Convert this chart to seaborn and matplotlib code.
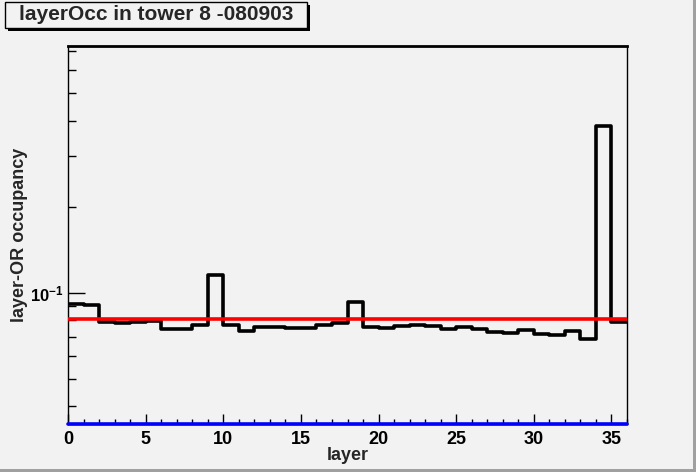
import numpy as np
import matplotlib
matplotlib.use("Agg")
import matplotlib.pyplot as plt
from matplotlib.patches import Rectangle
from matplotlib.ticker import MultipleLocator, FixedLocator, NullFormatter
import seaborn as sns

# layer-OR occupancy per layer
layers = np.arange(36)
occupancy = [0.0915, 0.0908, 0.0790, 0.0784, 0.0790, 0.0794, 0.0748, 0.0745, 0.0769, 0.1153,
             0.0769, 0.0735, 0.0759, 0.0759, 0.0751, 0.0751, 0.0771, 0.0782, 0.0928, 0.0757,
             0.0751, 0.0765, 0.0773, 0.0765, 0.0745, 0.0757, 0.0748, 0.0727, 0.0721, 0.0741,
             0.0717, 0.0713, 0.0733, 0.0687, 0.3838, 0.0788]
ref_level = 0.0807          # red reference line
y_range = (0.0347, 0.73)
x_range = (0, 36)
y_minor = [0.04, 0.05, 0.06, 0.07, 0.08, 0.09, 0.2, 0.3, 0.4, 0.5, 0.6, 0.7]
title = "layerOcc in tower 8 -080903"

W, H = 696, 472
BG = "#f2f2f2"

sns.set_theme(style="ticks")
plt.rcParams["font.family"] = ["Liberation Sans", "DejaVu Sans"]
plt.rcParams["font.weight"] = "bold"
plt.rcParams["mathtext.fontset"] = "custom"
plt.rcParams["mathtext.bf"] = "Liberation Sans:bold"
plt.rcParams["mathtext.rm"] = "Liberation Sans:bold"


def fx(px):
    return px / W


def fy(py):
    return 1 - py / H


fig = plt.figure(figsize=(W / 100, H / 100), dpi=100, facecolor=BG)
ax = fig.add_axes([fx(68), fy(424), fx(627) - fx(68), fy(46) - fy(424)])
ax.set_facecolor(BG)

sns.histplot(x=layers + 0.5, weights=occupancy, bins=36, binrange=x_range,
             element="step", fill=False, color="black", linewidth=2.6, ax=ax)
ax.set_yscale("log")
ax.set_xlim(*x_range)
ax.set_ylim(*y_range)

ax.axhline(ref_level, color="red", linewidth=2.6, zorder=4)
ax.axhline(y_range[0], color="blue", linewidth=2.6, zorder=5, clip_on=False)

# ticks, ROOT style (inside, none on top/right)
ax.xaxis.set_major_locator(MultipleLocator(5))
ax.xaxis.set_minor_locator(MultipleLocator(1))
ax.set_yticks([0.1], labels=[r"$\mathbf{10^{-1}}$"])
ax.yaxis.set_minor_locator(FixedLocator(y_minor))
ax.yaxis.set_minor_formatter(NullFormatter())
ax.tick_params(axis="both", which="both", direction="in", top=False, right=False,
               colors="black", width=1)
ax.tick_params(axis="x", which="major", length=7.2, labelsize=13, pad=5)
ax.tick_params(axis="x", which="minor", length=3.6)
ax.tick_params(axis="y", which="major", length=12, labelsize=12, pad=3)
ax.tick_params(axis="y", which="minor", length=5.8)
for lab in ax.get_xticklabels() + ax.get_yticklabels():
    lab.set_fontweight("bold")

for side in ["left", "right", "bottom"]:
    ax.spines[side].set_linewidth(1)
    ax.spines[side].set_color("black")
ax.spines["top"].set_linewidth(2)
ax.spines["top"].set_color("black")

ax.set_xlabel("layer", fontsize=13, fontweight="bold")
ax.set_ylabel("layer-OR occupancy", fontsize=13, fontweight="bold")
ax.xaxis.label.set_va("center")
ax.yaxis.label.set_va("center")
ax.xaxis.set_label_coords(0.5, (424 - 455) / 378)
ax.yaxis.set_label_coords((20 - 68) / 559, 0.5)

# title box with shadow
fig.add_artist(Rectangle((fx(8), fy(31)), fx(307) - fx(5), fy(2) - fy(28),
                         transform=fig.transFigure, facecolor="black", edgecolor="none"))
fig.add_artist(Rectangle((fx(5), fy(28)), fx(307) - fx(5), fy(2) - fy(28),
                         transform=fig.transFigure, facecolor=BG, edgecolor="black", linewidth=1))
fig.text(fx(156), fy(15), title, ha="center", va="center", fontsize=15, fontweight="bold")

# canvas bevel on right and bottom
fig.add_artist(Rectangle((fx(693), 0), fx(3), 1, transform=fig.transFigure,
                         facecolor="#a0a0a0", edgecolor="none"))
fig.add_artist(Rectangle((0, 0), 1, fy(469), transform=fig.transFigure,
                         facecolor="#a0a0a0", edgecolor="none"))

fig.savefig("out.png", dpi=100, facecolor=BG)
